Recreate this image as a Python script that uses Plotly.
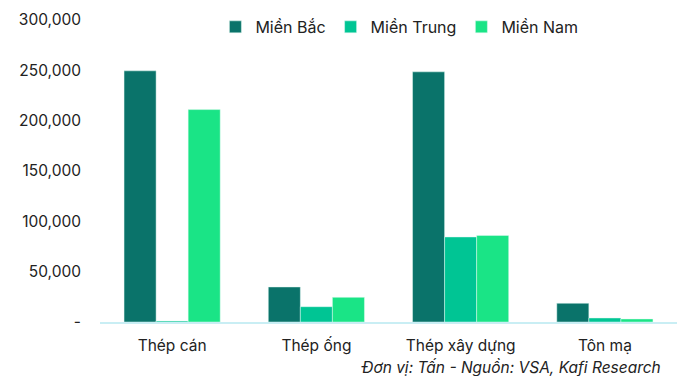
import plotly.graph_objects as go

categories = ["Thép cán", "Thép ống", "Thép xây dựng", "Tôn mạ"]
mien_bac = [249500, 34800, 248500, 18600]
mien_trung = [1000, 15200, 84500, 4000]
mien_nam = [211000, 24500, 86000, 3000]

series = [
    ("Miền Bắc", mien_bac, "#0a736a"),
    ("Miền Trung", mien_trung, "#00c594"),
    ("Miền Nam", mien_nam, "#1ae486"),
]

y_ticks = [0, 50000, 100000, 150000, 200000, 250000, 300000]
y_ticktext = ["-", "50,000", "100,000", "150,000", "200,000", "250,000", "300,000"]

fig = go.Figure()
for name, vals, color in series:
    fig.add_trace(go.Bar(
        x=categories, y=vals, name=name,
        marker=dict(color=color, line=dict(color="rgba(230,250,245,0.8)", width=0.6)),
    ))

fig.update_layout(
    width=679, height=376,
    margin=dict(l=100, r=2, t=20, b=54, autoexpand=False),
    paper_bgcolor="white", plot_bgcolor="white",
    font=dict(family="Inter, sans-serif", size=15.5, color="#222"),
    barmode="group", bargap=1/3, bargroupgap=0,
    showlegend=True,
    legend=dict(
        orientation="h", x=0.2, xanchor="left", y=0.977, yanchor="middle",
        font=dict(size=16, color="#222"), itemwidth=30, traceorder="normal",
        bgcolor="rgba(0,0,0,0)",
    ),
    xaxis=dict(
        showline=True, linecolor="#c9eef4", linewidth=2,
        ticks="", tickfont=dict(size=15.5, color="#222"),
        showgrid=False, ticklabelstandoff=8,
    ),
    yaxis=dict(
        range=[0, 300000], tickvals=y_ticks, ticktext=y_ticktext,
        showgrid=False, zeroline=False, showline=False,
        tickfont=dict(size=15.5, color="#222"), ticklabelstandoff=18,
    ),
    annotations=[dict(
        text="<i>Đơn vị: Tấn - Nguồn: VSA, Kafi Research</i>",
        xref="paper", yref="paper", x=0.976, y=-0.152,
        xanchor="right", yanchor="middle", showarrow=False,
        font=dict(size=15.5, color="#222"),
    )],
)

fig.write_html("out.html")
